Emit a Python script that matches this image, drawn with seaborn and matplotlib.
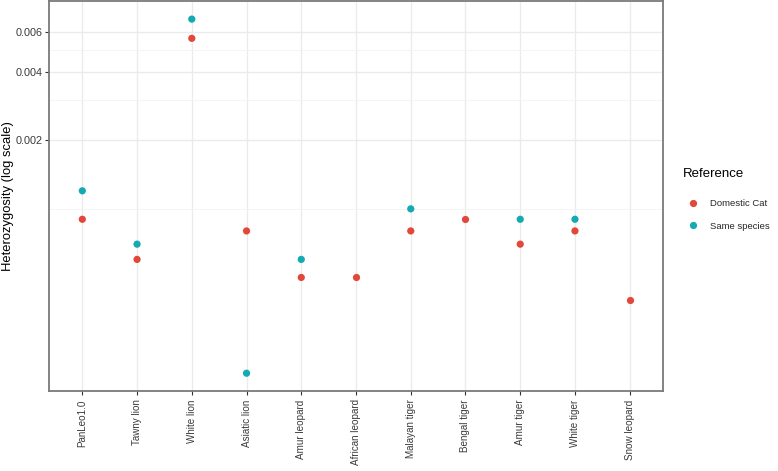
import numpy as np
import pandas as pd
import matplotlib
matplotlib.use("Agg")
import matplotlib.pyplot as plt
import matplotlib.ticker as mticker
from matplotlib.lines import Line2D
import seaborn as sns

# datos (heterocigosidad por genoma)
genomas = ['PanLeo1.0', 'Tawny lion', 'White lion', 'Asiatic lion', 'Amur leopard',
           'African leopard', 'Malayan tiger', 'Bengal tiger', 'Amur tiger',
           'White tiger', 'Snow leopard']
gato_domestico = [0.0009, 0.0006, 0.0056, 0.0008, 0.0005, 0.0005,
                  0.0008, 0.0009, 0.0007, 0.0008, 0.0004]
misma_especie = [0.0012, 0.0007, 0.0068, 0.00019, 0.0006, np.nan,
                 0.0010, np.nan, 0.0009, 0.0009, np.nan]
referencias = ['Domestic Cat', 'Same species']
colores = ['#E2483A', '#14AAB2']
ticks_y = [0.002, 0.004, 0.006]
ticks_menores = [0.001, 0.003, 0.005]

# tabla larga para seaborn
df = pd.DataFrame({
    'Genome': genomas * 2,
    'Heterozygosity': gato_domestico + misma_especie,
    'Reference': [referencias[0]] * len(genomas) + [referencias[1]] * len(genomas),
}).dropna()

sns.set_theme(style='white')
plt.rcParams['font.family'] = ['Liberation Sans', 'DejaVu Sans']

fig = plt.figure(figsize=(7.78, 4.71), dpi=100)
ax = fig.add_axes([0.0636, 0.170, 0.788, 0.827])

sns.stripplot(data=df, x='Genome', y='Heterozygosity', hue='Reference',
              order=genomas, hue_order=referencias, palette=colores,
              jitter=False, dodge=False, size=5.2, linewidth=0, ax=ax,
              legend=False, zorder=3)

ax.set_yscale('log')
# expansion del 5% en escala logaritmica, como ggplot
lmin = np.log10(np.nanmin(misma_especie + gato_domestico))
lmax = np.log10(np.nanmax(misma_especie + gato_domestico))
extra = 0.05 * (lmax - lmin)
ax.set_ylim(10 ** (lmin - extra), 10 ** (lmax + extra))
ax.set_xlim(-0.6, len(genomas) - 0.4)

ax.yaxis.set_major_locator(mticker.FixedLocator(ticks_y))
ax.yaxis.set_major_formatter(mticker.FixedFormatter(['0.002', '0.004', '0.006']))
ax.yaxis.set_minor_locator(mticker.FixedLocator(ticks_menores))
ax.yaxis.set_minor_formatter(mticker.NullFormatter())

ax.grid(True, which='major', color='#EBEBEB', linewidth=1.0, zorder=0)
ax.grid(True, which='minor', axis='y', color='#F3F3F3', linewidth=0.6, zorder=0)
ax.set_axisbelow(True)

ax.tick_params(axis='both', which='major', length=3, width=0.8, color='#333333',
               labelcolor='#3A3A3A', direction='out', bottom=True, left=True)
ax.tick_params(axis='y', which='major', labelsize=7.8, pad=2)
ax.tick_params(axis='x', which='major', labelsize=7.1, pad=3)
ax.tick_params(axis='y', which='minor', length=0)
plt.setp(ax.get_xticklabels(), rotation=90)

for lado in ax.spines.values():
    lado.set_color('#7A7A7A')
    lado.set_linewidth(1.3)

ax.set_xlabel('')
ax.set_ylabel('Heterozygosity (log scale)', fontsize=9.4, color='black')
ax.yaxis.set_label_coords(-0.058, 0.5)

# leyenda a la derecha (titulo aparte para controlar el espacio)
fig.text(683 / 778, 1 - 174 / 471, 'Reference', fontsize=9.5, color='black',
         ha='left', va='center')
manejadores = [Line2D([], [], marker='o', linestyle='', markersize=5.2,
                      markerfacecolor=c, markeredgewidth=0, label=r)
               for c, r in zip(colores, referencias)]
leyenda = ax.legend(handles=manejadores, loc='upper left',
                    bbox_to_anchor=(0.8834, 0.5775), bbox_transform=fig.transFigure,
                    frameon=False, fontsize=6.8, borderpad=0, borderaxespad=0,
                    handletextpad=1.2, labelspacing=1.45, handlelength=1.2)

fig.savefig('out.png', dpi=100)
